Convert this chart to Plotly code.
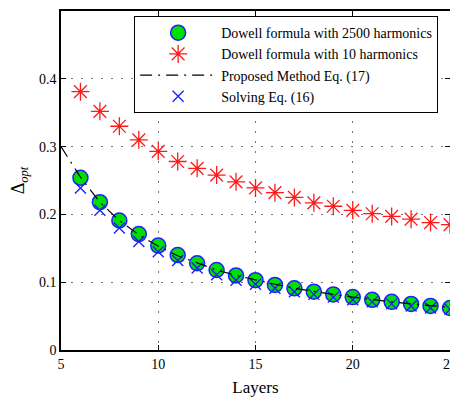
import plotly.graph_objects as go

layers = list(range(6, 26))
dowell_2500 = [0.254, 0.218, 0.191, 0.171, 0.154, 0.140, 0.128, 0.118, 0.110, 0.103,
               0.096, 0.091, 0.086, 0.082, 0.078, 0.074, 0.071, 0.068, 0.065, 0.062]
dowell_10 = [0.381, 0.352, 0.330, 0.310, 0.293, 0.278, 0.268, 0.258, 0.248, 0.239,
             0.232, 0.225, 0.217, 0.212, 0.206, 0.201, 0.197, 0.193, 0.188, 0.185]
solving_16 = [0.239, 0.206, 0.180, 0.160, 0.145, 0.132, 0.121, 0.111, 0.103, 0.097,
              0.091, 0.086, 0.082, 0.078, 0.074, 0.071, 0.068, 0.065, 0.062, 0.060]
line_layers = list(range(5, 26))
proposed_17 = [0.300, 0.255, 0.218, 0.191, 0.170, 0.153, 0.139, 0.128, 0.118, 0.110, 0.103,
               0.097, 0.091, 0.086, 0.082, 0.078, 0.074, 0.071, 0.068, 0.065, 0.063]
x_ticks = [5, 10, 15, 20, 25]
y_ticks = [0, 0.1, 0.2, 0.3, 0.4, 0.5]
y_tick_labels = ["0", "0.1", "0.2", "0.3", "0.4", "0.5"]

font = "Liberation Serif, Times New Roman, serif"

fig = go.Figure()
fig.add_trace(go.Scatter(x=layers, y=dowell_2500, mode="markers",
                         name="Dowell formula with 2500 harmonics", legendrank=1,
                         marker=dict(symbol="circle", size=15, color="#00e000",
                                     line=dict(color="#1f1fff", width=1.5))))
fig.add_trace(go.Scatter(x=layers, y=dowell_10, mode="markers",
                         name="Dowell formula with 10 harmonics", legendrank=2,
                         marker=dict(symbol="asterisk-open", size=15, color="#ff1a1a",
                                     line=dict(color="#ff1a1a", width=1.3))))
fig.add_trace(go.Scatter(x=layers, y=solving_16, mode="markers",
                         name="Solving Eq. (16)", legendrank=4,
                         marker=dict(symbol="x-thin-open", size=11, color="#1a1aff",
                                     line=dict(color="#1a1aff", width=1.3))))
fig.add_trace(go.Scatter(x=line_layers, y=proposed_17, mode="lines",
                         name="Proposed Method Eq. (17)", legendrank=3,
                         line=dict(color="black", width=1.2, dash="12px,6px,2px,6px")))

axis_common = dict(showline=True, linecolor="black", linewidth=1.5, mirror="ticks",
                   ticks="inside", ticklen=5, tickcolor="black", automargin=False,
                   showgrid=True, gridcolor="#777777", griddash="2px,8px", gridwidth=1,
                   zeroline=False, tickfont=dict(family=font, size=14, color="black"))

fig.update_xaxes(range=[5, 25], tickvals=x_ticks, ticklabeloverflow="allow",
                 title=dict(text="Layers", font=dict(family=font, size=17, color="black"), standoff=12),
                 **axis_common)
fig.update_yaxes(range=[0, 0.5], tickvals=y_ticks, ticktext=y_tick_labels,
                 title=dict(text="Δ<sub><i>opt</i></sub>", font=dict(family=font, size=18, color="black"), standoff=10),
                 **axis_common)

fig.update_layout(
    width=442, height=389,
    margin=dict(l=53, r=0, t=3, b=47),
    plot_bgcolor="white", paper_bgcolor="white",
    font=dict(family=font, size=14, color="black"),
    legend=dict(x=0.188, y=0.985, xanchor="left", yanchor="top",
                bgcolor="white", bordercolor="black", borderwidth=1,
                font=dict(family=font, size=14), itemwidth=76,
                tracegroupgap=0),
)

fig.write_html("out.html")
